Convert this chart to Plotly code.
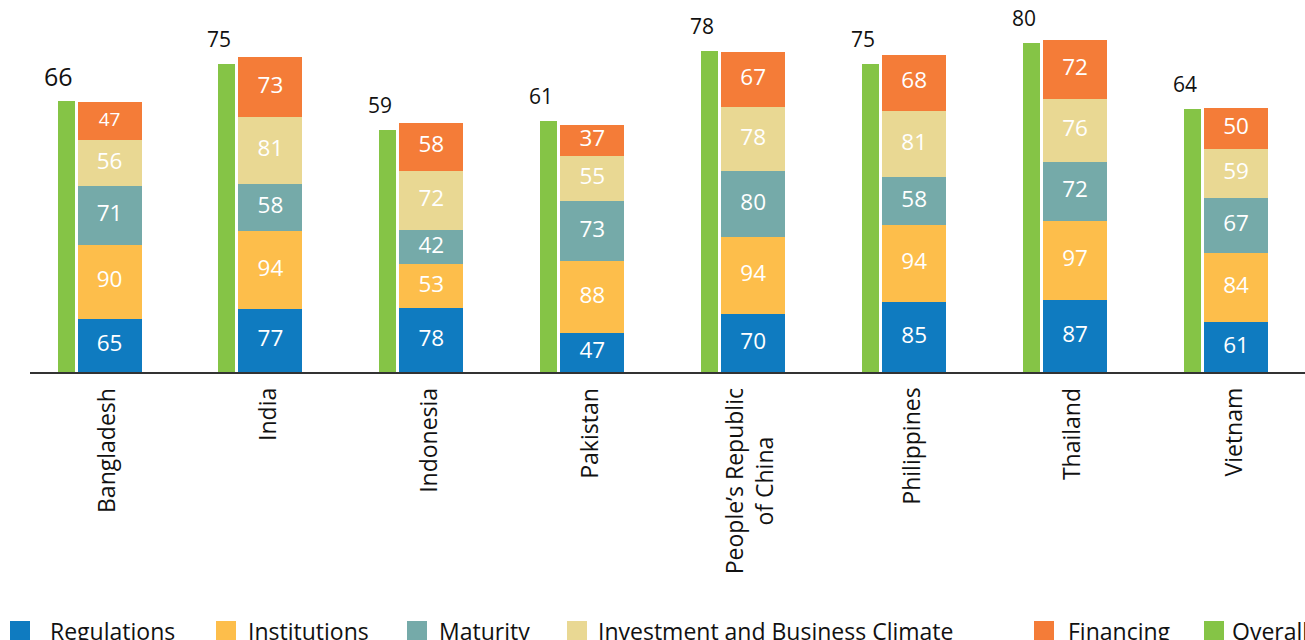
import numpy as np
import plotly.graph_objects as go

# ---------------- data ----------------
countries = ["Bangladesh", "India", "Indonesia", "Pakistan",
             "People’s Republic<br>of China", "Philippines", "Thailand", "Vietnam"]
series_names = ["Regulations", "Institutions", "Maturity",
                "Investment and Business Climate", "Financing", "Overall"]
regulations = [65, 77, 78, 47, 70, 85, 87, 61]
institutions = [90, 94, 53, 88, 94, 94, 97, 84]
maturity = [71, 58, 42, 73, 80, 58, 72, 67]
investment = [56, 81, 72, 55, 78, 81, 76, 59]
financing = [47, 73, 58, 37, 67, 68, 72, 50]
overall = [66, 75, 59, 61, 78, 75, 80, 64]

# ---------------- style ----------------
colors = ["#0F7BC0", "#FDBE4B", "#75AAA9", "#E9D893", "#F47C38", "#85C446"]
FONT = "Open Sans"
W, H = 1305, 640
ML, MR, MT = 30, 0, 0
BASE_PX = 372                     # baseline pixel
PLOT_W = W - ML - MR
PLOT_H = BASE_PX - MT

unit_px = 160.93                  # px per category
x_min = -(109.5 - ML) / unit_px
x_max = x_min + PLOT_W / unit_px
green_off = 43.5 / unit_px
stack_w = 64 / unit_px
green_w = 17 / unit_px

stack_px_per_unit = 0.822
y_max = PLOT_H / stack_px_per_unit
y2_max = y_max / 5.0

idx = np.arange(len(countries))
stack_x = idx.astype(float)
green_x = idx - green_off

stack_series = [regulations, institutions, maturity, investment, financing]

fig = go.Figure()
for name, vals, col in zip(series_names[:5], stack_series, colors[:5]):
    fig.add_trace(go.Bar(x=stack_x, y=vals, name=name, marker_color=col,
                         marker_line_width=0, width=stack_w, yaxis="y",
                         showlegend=False, hoverinfo="skip"))

fig.add_trace(go.Bar(x=green_x, y=overall, name=series_names[5],
                     marker_color=colors[5], marker_line_width=0,
                     width=green_w, yaxis="y2", showlegend=False,
                     hoverinfo="skip"))

# value labels inside stacked segments
arr = np.array(stack_series, dtype=float)
cum = np.cumsum(arr, axis=0)
mids = cum - arr / 2
for k, vals in enumerate(stack_series):
    sizes = [22.5] * len(vals)
    if k == 4:
        sizes[0] = 19
    fig.add_trace(go.Scatter(x=stack_x, y=mids[k], mode="text",
                             text=[str(v) for v in vals],
                             textfont=dict(color="white", size=sizes, family=FONT),
                             textposition="middle center", showlegend=False,
                             hoverinfo="skip", cliponaxis=False, yaxis="y"))

annotations = []
# overall labels
for i, v in enumerate(overall):
    annotations.append(dict(x=green_x[i], y=v, xref="x", yref="y2", text=str(v),
                            showarrow=False, xanchor="center", yanchor="middle",
                            xshift=-8, yshift=25,
                            font=dict(size=25 if i == 0 else 21, color="#111", family=FONT)))
# category labels
for i, c in enumerate(countries):
    annotations.append(dict(x=stack_x[i], y=0, xref="x", yref="y", text=c,
                            showarrow=False, textangle=-90, xanchor="center",
                            yanchor="top", yshift=-14, xshift=-4, align="center",
                            font=dict(size=23, color="#111", family=FONT)))

# manual legend
sq_left = [10, 216, 407, 567, 1034, 1204]
txt_left = [50, 248, 439, 598, 1068, 1232]
sq_top, sq_size = 621, 20
shapes = []
def px_x(p):
    return (p - ML) / PLOT_W
def px_y(p):
    return (BASE_PX - p) / PLOT_H
for name, col, sl, tl in zip(series_names, colors, sq_left, txt_left):
    shapes.append(dict(type="rect", xref="paper", yref="paper",
                       x0=px_x(sl), x1=px_x(sl + sq_size),
                       y0=px_y(sq_top + sq_size), y1=px_y(sq_top),
                       fillcolor=col, line_width=0))
    annotations.append(dict(x=px_x(tl - 2), y=px_y(631), xref="paper", yref="paper",
                            text=name, showarrow=False, xanchor="left",
                            yanchor="middle",
                            font=dict(size=23, color="#111", family=FONT)))

fig.update_layout(
    width=W, height=H, barmode="stack", bargap=0,
    margin=dict(l=ML, r=MR, t=MT, b=H - BASE_PX, pad=0),
    paper_bgcolor="white", plot_bgcolor="white",
    font=dict(family=FONT),
    xaxis=dict(range=[x_min, x_max], showline=True, linecolor="#333",
               linewidth=2, showticklabels=False, showgrid=False,
               zeroline=False, ticks="", fixedrange=True),
    yaxis=dict(range=[0, y_max], visible=False, showgrid=False, zeroline=False),
    yaxis2=dict(range=[0, y2_max], visible=False, overlaying="y",
                showgrid=False, zeroline=False),
    annotations=annotations, shapes=shapes,
)

fig.write_html("out.html",
               config={"displayModeBar": False, "staticPlot": True},
               post_script="document.body.style.margin='0';document.body.style.overflow='hidden';")
